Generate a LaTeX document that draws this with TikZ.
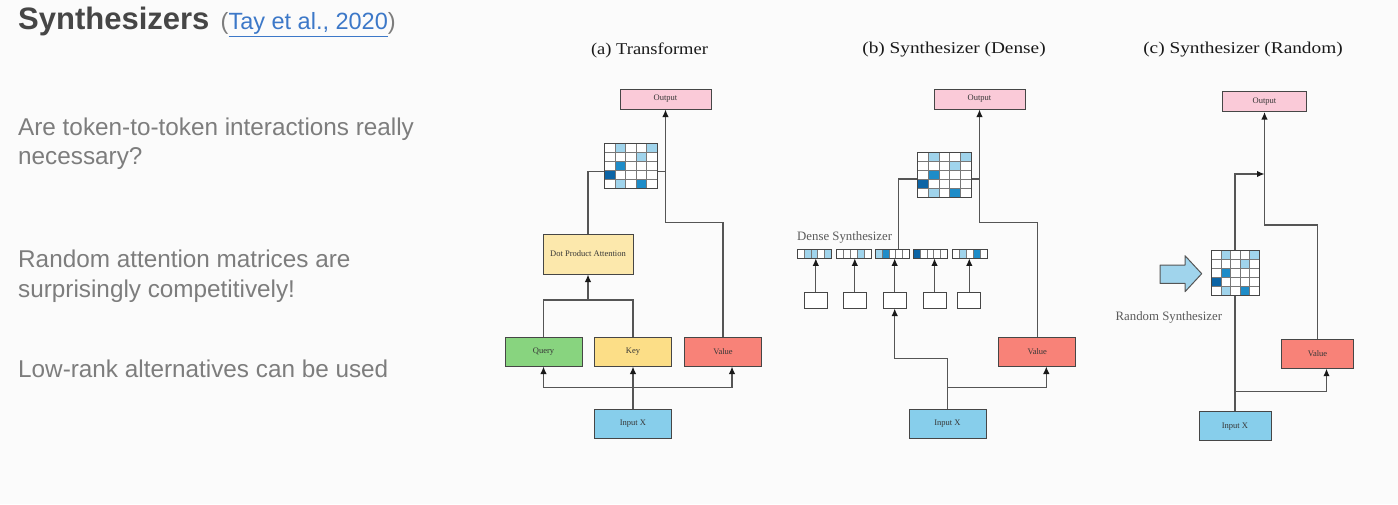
\documentclass[tikz,border=0pt]{standalone}
\usepackage{fontspec}
\setmainfont{Liberation Serif}
\newfontfamily\slidefont{Liberation Sans}
\usetikzlibrary{arrows.meta,calc}
\definecolor{bg}{RGB}{251,251,251}
\definecolor{linec}{RGB}{85,85,85}
\definecolor{borderc}{RGB}{70,70,70}
\definecolor{outc}{RGB}{250,202,216}
\definecolor{qc}{RGB}{136,212,127}
\definecolor{kc}{RGB}{252,222,135}
\definecolor{dpac}{RGB}{252,232,172}
\definecolor{vc}{RGB}{248,130,120}
\definecolor{inc}{RGB}{135,206,235}
\definecolor{cL}{RGB}{160,212,236}
\definecolor{cM}{RGB}{30,140,200}
\definecolor{cD}{RGB}{12,100,165}
\definecolor{gridc}{RGB}{120,120,120}
\definecolor{titlec}{RGB}{70,70,70}
\definecolor{bodyc}{RGB}{125,125,125}
\definecolor{linkc}{RGB}{60,120,200}
\definecolor{labc}{RGB}{90,90,90}
\definecolor{boxtext}{RGB}{55,55,55}
\newcommand\attnmat[3]{%
  \fill[white] (#1.north west) rectangle (#1.south east);
  \foreach \i/\j/\c in {0/1/cL,0/4/cL,1/3/cL,2/1/cM,3/0/cD,4/1/cL,4/3/cM}{
    \fill[\c] ($(#1.north west)+(\j*#2,\i*#3)$) rectangle ++(#2,#3);}
  \foreach \k in {1,...,4}{
    \draw[gridc,line width=0.8pt] ($(#1.north west)+(\k*#2,0)$) -- ++(0,5*#3);
    \draw[gridc,line width=0.8pt] ($(#1.north west)+(0,\k*#3)$) -- ++(5*#2,0);}
  \draw[borderc,line width=1pt] (#1.north west) rectangle (#1.south east);}
\newcommand\vecrow[2]{%
  \fill[white] (#1.north west) rectangle (#1.south east);
  \foreach \j/\c in {#2}{
    \fill[\c] ($(#1.north west)+(\j*6.8,0)$) rectangle ++(6.8,9);}
  \foreach \k in {1,...,4}{
    \draw[gridc,line width=0.8pt] ($(#1.north west)+(\k*6.8,0)$) -- ++(0,9);}
  \draw[borderc,line width=1pt] (#1.north west) rectangle (#1.south east);}
\begin{document}
\begin{tikzpicture}[x=1pt,y=-1pt,
  box/.style={draw=borderc,line width=1pt,inner sep=0pt,
    font=\fontsize{8.5}{10}\selectfont,text=boxtext},
  outbox/.style={box,fill=outc,minimum width=#1,minimum height=20pt},
  unitbox/.style={box,minimum width=77pt,minimum height=29pt},
  matbox/.style={inner sep=0pt,minimum height=44pt,minimum width=#1},
  vecbox/.style={inner sep=0pt,minimum width=34pt,minimum height=9pt},
  smallbox/.style={draw=borderc,line width=1pt,fill=white,inner sep=0pt,minimum width=23pt,minimum height=16pt},
  conn/.style={linec,line width=1.3pt},
  arr/.style={conn,-{Latex[length=7.5pt,width=6.5pt,color=black!90]}},
  paneltitle/.style={inner sep=0pt,text=black!90,font=\fontsize{16.5}{18}\selectfont},
  body/.style={anchor=base west,inner sep=0pt,text=bodyc,font=\slidefont\fontsize{24.3}{28}\selectfont},
  synlab/.style={anchor=west,inner sep=0pt,text=labc,font=\fontsize{12.8}{14}\selectfont}
]
\fill[bg] (0,0) rectangle (1398,504);
\useasboundingbox (0,0) rectangle (1398,504);

% ---------- slide text ----------
\node[anchor=base west,inner sep=0pt,text=titlec,font=\slidefont\bfseries\fontsize{31}{36}\selectfont] (title) at (18,29.5) {Synthesizers};
\node[anchor=base west,inner sep=0pt,font=\slidefont\fontsize{23.5}{28}\selectfont] (cite) at (220.5,29.5)
  {\textcolor{bodyc}{(}\textcolor{linkc}{\underline{Tay et al., 2020}}\textcolor{bodyc}{)}};
\node[body] (p1a) at (18,135) {Are token-to-token interactions really};
\node[body] (p1b) at (18,164.5) {necessary?};
\node[body] (p2a) at (18,267.5) {Random attention matrices are};
\node[body] (p2b) at (18,297.5) {surprisingly competitively!};
\node[body] (p3) at (18,377.5) {Low-rank alternatives can be used};

% ---------- panel titles ----------
\node[paneltitle] (ta) at (649.5,50) {\scalebox{1.12}[1]{(a) Transformer}};
\node[paneltitle] (tb) at (954,50) {\scalebox{1.17}[1]{(b) Synthesizer (Dense)}};
\node[paneltitle] (tc) at (1243,50) {\scalebox{1.17}[1]{(c) Synthesizer (Random)}};

% ---------- (a) Transformer ----------
\node[outbox=91pt] (aout) at (665.5,99) {Output};
\node[matbox=52pt] (amat) at (631,166) {};
\node[box,fill=dpac,minimum width=90pt,minimum height=40pt] (adpa) at (588,254) {Dot Product Attention};
\node[unitbox,fill=qc] (aq) at (543.5,351.5) {Query};
\node[unitbox,fill=kc] (ak) at (633,351.5) {Key};
\node[unitbox,fill=vc] (av) at (723,351.5) {Value};
\node[unitbox,fill=inc] (ain) at (633,423.5) {Input X};

\coordinate (aj) at (633,387.3);
\coordinate (aqk) at (588,300);
\coordinate (ad) at (588,171.7);
\coordinate (ay) at (0,222.7);
\draw[arr] (ain.north) -- (ak.south);
\draw[arr] (aj) -| (aq.south);
\draw[arr] (aj) -| ([xshift=9pt]av.south);
\draw[conn] (aq.north) |- (ak.north |- aqk) -- (ak.north);
\draw[arr] (aqk) -- (adpa.south);
\draw[conn] (adpa.north) -- (ad) -- (ad -| aout.south);
\draw[arr] (av.north) |- (aout.south |- ay) -- (aout.south);
\attnmat{amat}{10.4}{8.8}

% ---------- (b) Synthesizer (Dense) ----------
\node[outbox=91pt] (bout) at (979.5,99) {Output};
\node[matbox=53pt] (bmat) at (944.5,175) {};
\node[synlab] (bsyn) at (797,237) {Dense Synthesizer};
\node[vecbox] (bv1) at (814.5,253.7) {};
\node[vecbox] (bv2) at (854,253.7) {};
\node[vecbox] (bv3) at (892.5,253.7) {};
\node[vecbox] (bv4) at (930.5,253.7) {};
\node[vecbox] (bv5) at (970,253.7) {};
\node[smallbox] (bs1) at (815.8,300) {};
\node[smallbox] (bs2) at (854.8,300) {};
\node[smallbox] (bs3) at (894.7,300) {};
\node[smallbox] (bs4) at (934.5,300) {};
\node[smallbox] (bs5) at (969.3,300) {};
\node[unitbox,fill=vc] (bval) at (1037.3,351.5) {Value};
\node[unitbox,fill=inc] (bin) at (947.5,423.5) {Input X};

\coordinate (byA) at (0,358.7);
\coordinate (byB) at (0,387.3);
\coordinate (byC) at (0,222.7);
\coordinate (bx) at (898.3,179);
\draw[arr] (bin.north) -- (bin.north |- byA) -| (bs3.south);
\draw[arr] (bin.north |- byB) -| ([xshift=9pt]bval.south);
\foreach \n in {1,...,5}{
  \draw[arr] (bs\n.north) -- (bs\n.north |- bv\n.south);}
\draw[conn] (bv3.north -| bx) -- (bx) -- (bx -| bout.south);
\draw[arr] (bval.north) |- (bout.south |- byC) -- (bout.south);
\attnmat{bmat}{10.6}{8.8}
\vecrow{bv1}{1/cL,2/cL,4/cL}
\vecrow{bv2}{3/cL}
\vecrow{bv3}{0/cL,1/cM}
\vecrow{bv4}{0/cD}
\vecrow{bv5}{1/cL,3/cM}

% ---------- (c) Synthesizer (Random) ----------
\node[outbox=84pt] (cout) at (1264.5,101.5) {Output};
\node[matbox=47.5pt] (cmat) at (1235.5,273) {};
\node[synlab] (csyn) at (1115.5,317) {Random Synthesizer};
\node[unitbox,fill=vc,minimum width=71.5pt] (cval) at (1317.5,353.7) {Value};
\node[unitbox,fill=inc,minimum width=72pt] (cin) at (1235,426.3) {Input X};

\coordinate (cm) at (1235,174);
\coordinate (cj) at (1235,391.7);
\coordinate (cy) at (0,225);
\draw[arr] (cin.north) -- (cm) -- (cm -| cout.south);
\draw[arr] (cj) -| ([xshift=9pt]cval.south);
\draw[arr] (cval.north) |- (cout.south |- cy) -- (cout.south);
\attnmat{cmat}{9.5}{8.8}
\fill[cL,draw=linec,line width=1pt,line join=round]
  (1160,265) -- (1185,265) -- (1185,255.7) -- (1201.7,273.7) -- (1185,291.7)
  -- (1185,283.3) -- (1160,283.3) -- cycle;
\end{tikzpicture}
\end{document}
